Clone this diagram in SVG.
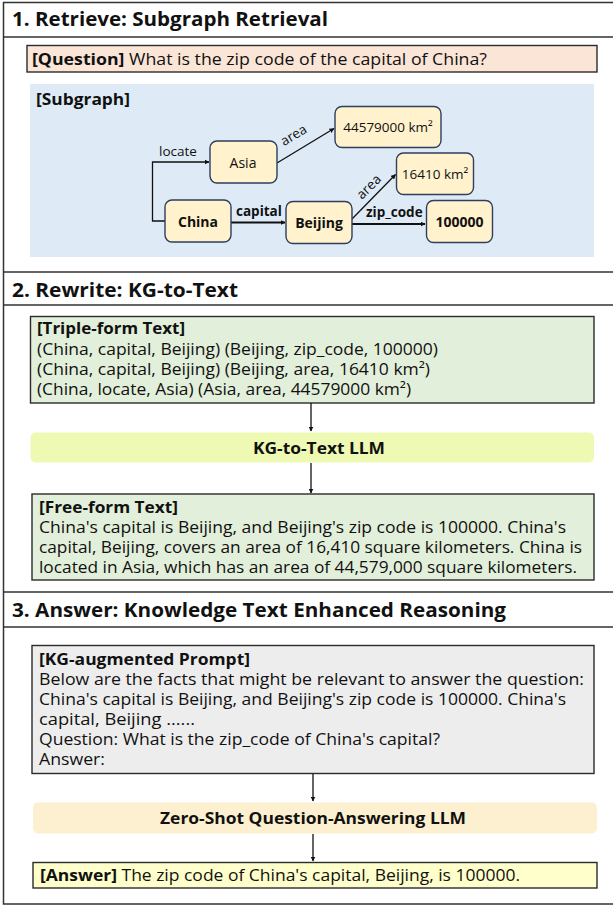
<svg xmlns="http://www.w3.org/2000/svg" width="613" height="907" viewBox="0 0 613 907">
<defs>
<style>
text{font-family:"Open Sans","Noto Sans","DejaVu Sans",sans-serif;fill:#111}
.h{font-size:19.5px;font-weight:bold}
.t{font-size:16px}
.b{font-weight:bold}
.n{fill:#FFF2CC;stroke:#2E3E5C;stroke-width:1.4}
.nt{font-size:14px;text-anchor:middle;dominant-baseline:central}
.lb{font-size:13.5px}
.box{stroke:#2b2b2b;stroke-width:1.4}
.sep{stroke:#333;stroke-width:1.5;fill:none}
.c{stroke:#111;stroke-width:1.3;fill:none;marker-end:url(#ah)}
.ct{stroke:#111;stroke-width:2;fill:none;marker-end:url(#ah)}
</style>
<marker id="ah" viewBox="0 0 10 10" refX="9" refY="5" markerWidth="5" markerHeight="5" orient="auto" markerUnits="userSpaceOnUse">
<path d="M0,0 L10,5 L0,10 z" fill="#111"/>
</marker>
</defs>
<rect width="613" height="907" fill="#fff"/>
<g id="frame">
<path class="sep" d="M620,2.5 H3.5 V904 H620"/>
<path class="sep" d="M3.5,37 H613 M3.5,272 H613 M3.5,305 H613 M3.5,592 H613 M3.5,627 H613"/>
<text class="h" x="12" y="26" textLength="316" lengthAdjust="spacingAndGlyphs">1. Retrieve: Subgraph Retrieval</text>
<text class="h" x="12" y="297" textLength="226" lengthAdjust="spacingAndGlyphs">2. Rewrite: KG-to-Text</text>
<text class="h" x="12" y="617" textLength="494" lengthAdjust="spacingAndGlyphs">3. Answer: Knowledge Text Enhanced Reasoning</text>
</g>
<g id="question">
<rect class="box" x="27" y="45.5" width="570" height="26.5" fill="#FBE5D6"/>
<text class="t" x="32" y="65" textLength="455" lengthAdjust="spacingAndGlyphs"><tspan class="b">[Question]</tspan> What is the zip code of the capital of China?</text>
</g>
<g id="subgraph">
<rect x="30" y="84" width="564" height="173" fill="#DEEBF7"/>
<text class="b" x="36" y="105" style="font-size:15.5px" textLength="94" lengthAdjust="spacingAndGlyphs">[Subgraph]</text>
</g>
<g id="connectors">
<path class="c" d="M165,221 H152.5 V162 H209"/>
<path class="c" d="M277,163 L334,128.5"/>
<path class="ct" d="M231,222.5 H285"/>
<path class="ct" d="M352,224 H425"/>
<path class="c" d="M352,219 L395.5,174.5"/>
<text class="lb" x="159" y="156">locate</text>
<text class="lb b" x="236" y="216">capital</text>
<text class="lb b" x="366" y="217">zip_code</text>
<text class="lb" transform="translate(296,139) rotate(-31)" text-anchor="middle">area</text>
<text class="lb" transform="translate(372,190) rotate(-45)" text-anchor="middle">area</text>
</g>
<g id="node-asia"><rect class="n" x="210" y="141" width="67" height="42" rx="7"/><text class="nt" x="243" y="162">Asia</text></g>
<g id="node-asia-area"><rect class="n" x="335" y="106.5" width="106" height="41" rx="7"/><text class="nt" x="388" y="127" style="font-size:13.5px">44579000 km²</text></g>
<g id="node-beijing-area"><rect class="n" x="396.5" y="153" width="77" height="41.5" rx="7"/><text class="nt" x="435" y="174" style="font-size:13.5px">16410 km²</text></g>
<g id="node-china"><rect class="n" x="165" y="200" width="66" height="42" rx="7"/><text class="nt b" x="198" y="221">China</text></g>
<g id="node-beijing"><rect class="n" x="286" y="201.5" width="66" height="42" rx="7"/><text class="nt b" x="319" y="222.5">Beijing</text></g>
<g id="node-zip"><rect class="n" x="426.5" y="200.5" width="66" height="42" rx="7"/><text class="nt b" x="459.5" y="221.5">100000</text></g>
<g id="triple">
<rect class="box" x="30.5" y="316.5" width="563.5" height="86.5" fill="#E2EFDA"/>
<text class="t b" x="37" y="334" textLength="148" lengthAdjust="spacingAndGlyphs">[Triple-form Text]</text>
<text class="t" x="37" y="354.5" textLength="401" lengthAdjust="spacingAndGlyphs">(China, capital, Beijing) (Beijing, zip_code, 100000)</text>
<text class="t" x="37" y="374.5" textLength="393" lengthAdjust="spacingAndGlyphs">(China, capital, Beijing) (Beijing, area, 16410 km²)</text>
<text class="t" x="37" y="394.5" textLength="374" lengthAdjust="spacingAndGlyphs">(China, locate, Asia) (Asia, area, 44579000 km²)</text>
</g>
<g id="kg2text">
<rect x="30.5" y="432.5" width="563.5" height="30" rx="5" fill="#EEF9B3"/>
<text class="t b" x="319" y="453.5" text-anchor="middle" textLength="132" lengthAdjust="spacingAndGlyphs">KG-to-Text LLM</text>
</g>
<g id="freeform">
<rect class="box" x="32" y="494" width="562" height="86" fill="#E2EFDA"/>
<text class="t b" x="39" y="513" textLength="139" lengthAdjust="spacingAndGlyphs">[Free-form Text]</text>
<text class="t" x="39" y="533" textLength="527" lengthAdjust="spacingAndGlyphs">China's capital is Beijing, and Beijing's zip code is 100000. China's</text>
<text class="t" x="39" y="553" textLength="543" lengthAdjust="spacingAndGlyphs">capital, Beijing, covers an area of 16,410 square kilometers. China is</text>
<text class="t" x="39" y="573" textLength="538" lengthAdjust="spacingAndGlyphs">located in Asia, which has an area of 44,579,000 square kilometers.</text>
</g>
<g id="prompt">
<rect class="box" x="32" y="645.5" width="562" height="128" fill="#EDEDED"/>
<text class="t b" x="39" y="665" textLength="211" lengthAdjust="spacingAndGlyphs">[KG-augmented Prompt]</text>
<text class="t" x="39" y="685" textLength="545" lengthAdjust="spacingAndGlyphs">Below are the facts that might be relevant to answer the question:</text>
<text class="t" x="39" y="705" textLength="527" lengthAdjust="spacingAndGlyphs">China's capital is Beijing, and Beijing's zip code is 100000. China's</text>
<text class="t" x="39" y="725" textLength="156" lengthAdjust="spacingAndGlyphs">capital, Beijing ......</text>
<text class="t" x="39" y="745" textLength="401" lengthAdjust="spacingAndGlyphs">Question: What is the zip_code of China's capital?</text>
<text class="t" x="39" y="765" textLength="66" lengthAdjust="spacingAndGlyphs">Answer:</text>
</g>
<g id="zeroshot">
<rect x="33" y="802.5" width="564" height="31" rx="5" fill="#FDF0D0"/>
<text class="t b" x="313" y="823.5" text-anchor="middle" textLength="306" lengthAdjust="spacingAndGlyphs">Zero-Shot Question-Answering LLM</text>
</g>
<g id="answer">
<rect class="box" x="33" y="862.5" width="564" height="25.5" fill="#FFFFCC"/>
<text class="t" x="40" y="881" textLength="480" lengthAdjust="spacingAndGlyphs"><tspan class="b">[Answer]</tspan> The zip code of China's capital, Beijing, is 100000.</text>
</g>
<g id="flow-connectors">
<path class="c" d="M311,403 V431"/>
<path class="c" d="M311,463 V493"/>
<path class="c" d="M313,774 V801"/>
<path class="c" d="M313,834 V861"/>
</g>
</svg>
